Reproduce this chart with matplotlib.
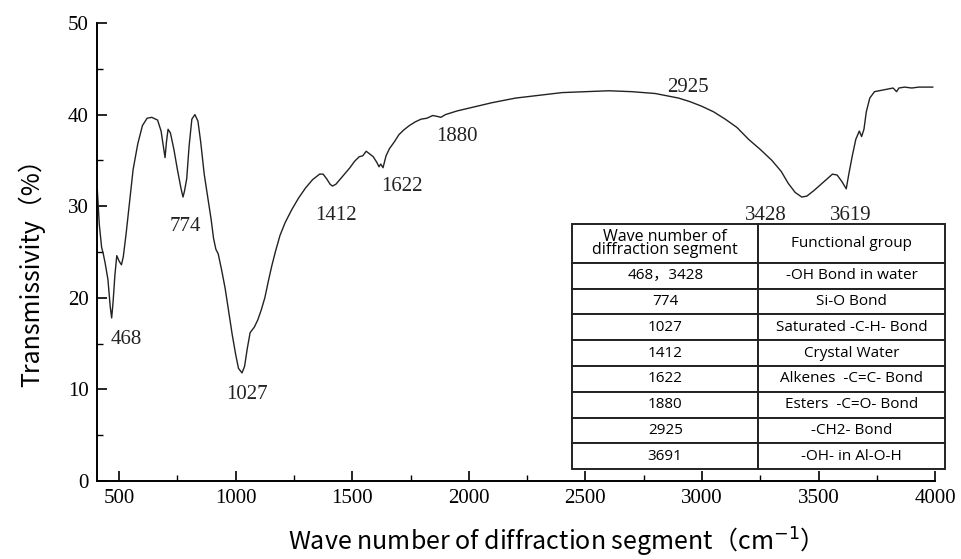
import matplotlib
matplotlib.use("Agg")
import matplotlib.pyplot as plt
from matplotlib.ticker import MultipleLocator

# spectrum
wavenumber = [406, 415, 425, 432, 440, 452, 462, 468, 474, 482, 490, 500, 510, 518,
              530, 545, 560, 580, 600, 620, 640, 665, 680, 690, 697, 703, 710, 720,
              735, 750, 765, 774, 780, 790, 800, 812, 825, 838, 850, 865, 880, 895,
              905, 915, 925, 940, 955, 970, 985, 1000, 1012, 1027, 1038, 1050, 1062,
              1080, 1095, 1110, 1125, 1140, 1155, 1170, 1190, 1212, 1240, 1270, 1300,
              1330, 1360, 1375, 1390, 1405, 1415, 1430, 1450, 1470, 1490, 1510, 1530,
              1545, 1560, 1575, 1590, 1605, 1615, 1622, 1632, 1645, 1660, 1680, 1700,
              1720, 1745, 1770, 1795, 1820, 1845, 1865, 1880, 1900, 1950, 2000, 2100,
              2200, 2300, 2400, 2500, 2600, 2700, 2800, 2900, 2950, 3000, 3050, 3100,
              3150, 3200, 3250, 3300, 3340, 3370, 3400, 3428, 3450, 3480, 3520, 3560,
              3580, 3600, 3619, 3630, 3645, 3660, 3675, 3685, 3695, 3705, 3720, 3740,
              3760, 3780, 3800, 3820, 3835, 3845, 3870, 3900, 3930, 3960, 3990]
transmissivity = [32.0, 28.0, 25.5, 24.8, 23.8, 22.0, 19.0, 17.8, 19.5, 22.5, 24.6, 24.0,
                  23.6, 24.5, 27.0, 30.5, 34.0, 36.8, 38.8, 39.6, 39.7, 39.4, 38.2, 36.5,
                  35.3, 37.0, 38.4, 38.0, 36.2, 34.0, 32.0, 31.0, 31.6, 33.0, 36.5, 39.5,
                  40.0, 39.3, 37.0, 33.5, 31.0, 28.5, 26.5, 25.3, 24.8, 23.0, 21.0, 18.5,
                  16.0, 13.8, 12.3, 11.8, 12.5, 14.5, 16.2, 16.8, 17.6, 18.7, 20.0, 21.8,
                  23.5, 25.0, 26.8, 28.2, 29.6, 30.9, 32.0, 32.9, 33.5, 33.5, 33.0, 32.4,
                  32.2, 32.4, 33.0, 33.6, 34.2, 34.9, 35.4, 35.5, 36.0, 35.7, 35.4, 34.8,
                  34.3, 34.6, 34.2, 35.5, 36.3, 37.0, 37.8, 38.3, 38.8, 39.2, 39.5, 39.6,
                  39.9, 39.8, 39.7, 40.0, 40.4, 40.7, 41.3, 41.8, 42.1, 42.4, 42.5, 42.6,
                  42.5, 42.3, 41.8, 41.4, 40.9, 40.3, 39.5, 38.6, 37.3, 36.2, 35.0, 33.8,
                  32.5, 31.5, 31.0, 31.1, 31.7, 32.6, 33.5, 33.4, 32.7, 31.9, 33.5, 35.5,
                  37.3, 38.2, 37.6, 38.4, 40.3, 41.8, 42.5, 42.6, 42.7, 42.8, 42.9, 42.5,
                  42.9, 43.0, 42.9, 43.0, 43.0, 43.0]

# peak labels
peak_labels = ["468", "774", "1027", "1412", "1622", "1880", "2925", "3428", "3619"]
peak_x = [530, 783, 1049, 1431, 1715, 1951, 2942, 3272, 3637]
peak_y = [15.4, 27.8, 9.4, 29.0, 32.2, 37.6, 43.0, 29.0, 29.0]

# assignment table
table_header = ["Wave number of\ndiffraction segment", "Functional group"]
table_wave = ["468\uff0c3428", "774", "1027", "1412", "1622", "1880", "2925", "3691"]
table_group = ["-OH Bond in water", "Si-O Bond", "Saturated -C-H- Bond", "Crystal Water",
               "Alkenes  -C=C- Bond", "Esters  -C=O- Bond", "-CH2- Bond", "-OH- in Al-O-H"]

serif = "Liberation Serif"
sans = ["Noto Sans CJK SC", "DejaVu Sans"]
table_font = ["Open Sans", "Noto Sans CJK SC"]

fig = plt.figure(figsize=(9.62, 5.59), dpi=100)
ax = fig.add_axes([0.1008, 0.1395, 0.8712, 0.8194])

ax.plot(wavenumber, transmissivity, color="#222222", lw=1.0)
ax.set_xlim(405, 4000)
ax.set_ylim(0, 50)

for s in ["top", "right"]:
    ax.spines[s].set_visible(False)
for s in ["left", "bottom"]:
    ax.spines[s].set_linewidth(1.4)

ax.xaxis.set_major_locator(MultipleLocator(500))
ax.xaxis.set_minor_locator(MultipleLocator(250))
ax.yaxis.set_major_locator(MultipleLocator(10))
ax.yaxis.set_minor_locator(MultipleLocator(5))
ax.tick_params(which="major", direction="in", length=7, width=1.2, labelsize=15, pad=6)
ax.tick_params(which="minor", direction="in", length=4, width=1.0)
for lab in ax.get_xticklabels() + ax.get_yticklabels():
    lab.set_fontfamily(serif)

for t, x, y in zip(peak_labels, peak_x, peak_y):
    ax.text(x, y, t, ha="center", va="center", fontsize=15, family=serif, color="#222222")

ax.set_ylabel("Transmissivity\uff08%\uff09", fontsize=18, family=sans)
ax.set_xlabel("Wave number of diffraction segment\uff08cm$^{-1}$\uff09", fontsize=18,
              family=sans)
ax.yaxis.set_label_coords(-0.062, 0.469)
ax.xaxis.set_label_coords(0.539, -0.098)

cells = [[w, g] for w, g in zip(table_wave, table_group)]
tab = ax.table(cellText=cells, colLabels=table_header, cellLoc="center",
               bbox=[0.5668, 0.0262, 0.445, 0.535], zorder=5)
tab.auto_set_font_size(False)
header_h = 39.0 / 245.0
row_h = (1 - header_h) / len(cells)
for (r, c), cell in tab.get_celld().items():
    cell.set_linewidth(1.4)
    cell.set_edgecolor("#222222")
    cell.set_facecolor("white")
    cell.set_height(header_h if r == 0 else row_h)
    cell.set_width(0.5)
    txt = cell.get_text()
    txt.set_fontsize(11)
    txt.set_fontfamily(table_font)
    if r == 0 and c == 0:
        txt.set_linespacing(0.8)
        txt.set_fontsize(11.5)

plt.savefig("out.png", dpi=100)
